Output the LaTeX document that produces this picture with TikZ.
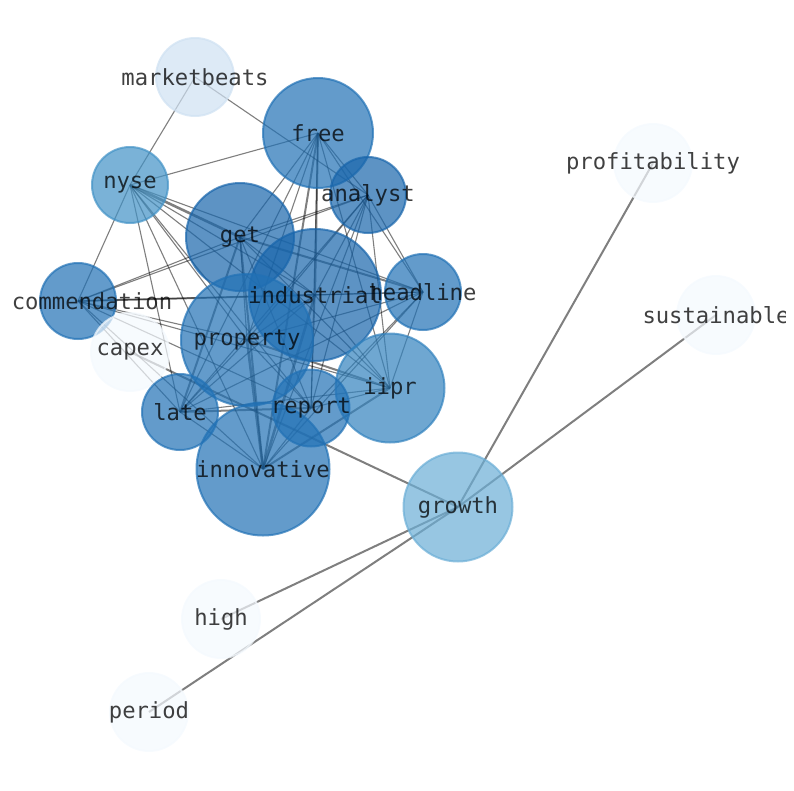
\documentclass[tikz,border=0pt]{standalone}
\usepackage{fontspec}
\setmonofont{DejaVu Sans Mono}
\begin{document}
\begin{tikzpicture}[x=1pt,y=-1pt,
  vtx/.style={circle,inner sep=0pt,minimum size=#1,fill opacity=0.7,draw opacity=0.7,line width=2pt},
  lbl/.style={text=black,text opacity=0.75,font=\ttfamily\fontsize{22.2}{24}\selectfont,inner sep=0pt},
  edge/.style={draw=black,draw opacity=0.5,line width=1.1pt},
  bold/.style={draw=black,draw opacity=0.5,line width=2.6pt},
  mid/.style={draw=black,draw opacity=0.5,line width=2pt}]
\useasboundingbox (0,0) rectangle (794,790);
\definecolor{cA}{HTML}{1865AB}
\definecolor{cB}{HTML}{2171B5}
\definecolor{cC}{HTML}{3282BE}
\definecolor{cN}{HTML}{4292C6}
\definecolor{cG}{HTML}{6BAED6}
\definecolor{cM}{HTML}{CFE1F2}
\definecolor{cP}{HTML}{F4F9FE}
% coordinates of node centres
\coordinate (p-marketbeats) at (195,77);
\coordinate (p-free) at (318,133);
\coordinate (p-nyse) at (130,185);
\coordinate (p-analyst) at (368,195);
\coordinate (p-get) at (240,237);
\coordinate (p-profitability) at (653,163);
\coordinate (p-industrial) at (315,295);
\coordinate (p-headline) at (423,292);
\coordinate (p-commendation) at (78,301);
\coordinate (p-sustainable) at (716,315);
\coordinate (p-capex) at (130,352);
\coordinate (p-property) at (247,340);
\coordinate (p-iipr) at (390,388);
\coordinate (p-report) at (311,408);
\coordinate (p-late) at (180,412);
\coordinate (p-innovative) at (263,469);
\coordinate (p-growth) at (458,507);
\coordinate (p-high) at (221,619);
\coordinate (p-period) at (149,712);
% edges
\foreach \a/\b/\s in {
 marketbeats/nyse/edge, marketbeats/analyst/edge,
 free/nyse/edge, free/get/edge, free/analyst/edge, free/industrial/mid, free/headline/edge,
 free/property/edge, free/iipr/edge, free/report/edge, free/late/edge, free/innovative/mid,
 nyse/commendation/edge, nyse/get/bold, nyse/industrial/edge, nyse/property/edge, nyse/headline/edge,
 nyse/iipr/edge, nyse/report/edge, nyse/late/edge, nyse/innovative/edge,
 analyst/get/edge, analyst/commendation/edge, analyst/industrial/edge, analyst/headline/edge,
 analyst/property/edge, analyst/iipr/edge, analyst/report/edge, analyst/late/edge, analyst/innovative/edge,
 get/commendation/edge, get/industrial/edge, get/headline/mid, get/property/edge, get/iipr/edge,
 get/report/edge, get/late/mid, get/innovative/mid,
 industrial/commendation/mid, industrial/headline/edge, industrial/property/edge, industrial/iipr/edge,
 industrial/report/edge, industrial/late/edge, industrial/innovative/bold,
 headline/commendation/edge, headline/property/edge, headline/iipr/edge, headline/report/edge,
 headline/innovative/edge, headline/late/edge,
 commendation/property/edge, commendation/iipr/edge, commendation/report/edge,
 commendation/late/edge, commendation/innovative/edge,
 property/iipr/mid, property/report/edge, property/late/edge, property/innovative/bold,
 iipr/report/edge, iipr/late/edge, iipr/innovative/mid,
 report/late/mid, report/innovative/edge, late/innovative/edge,
 capex/growth/mid, growth/profitability/mid, growth/sustainable/mid,
 growth/high/mid, growth/period/mid}
 \draw[\s] (p-\a) -- (p-\b);
% nodes
\foreach \n/\c/\d in {marketbeats/cM/78, free/cB/110, nyse/cN/76, analyst/cA/76, get/cA/108,
 profitability/cP/78, industrial/cA/132, headline/cB/76, commendation/cB/76, sustainable/cP/78,
 capex/cP/78, property/cB/132, iipr/cC/109, report/cB/77, late/cB/76, innovative/cB/133,
 growth/cG/109, high/cP/78, period/cP/78}
 \node[vtx=\d pt,fill=\c,draw=\c] (\n) at (p-\n) {};
% labels
\begin{scope}
\clip (0,0) rectangle (785,790);
\foreach \n in {marketbeats,free,nyse,analyst,get,profitability,industrial,headline,
 sustainable,capex,property,iipr,report,late,innovative,growth,high,period}
 \node[lbl] (t-\n) at (p-\n) {\n};
\node[lbl] (t-commendation) at ([xshift=14pt]p-commendation) {commendation};
\end{scope}
\end{tikzpicture}
\end{document}
